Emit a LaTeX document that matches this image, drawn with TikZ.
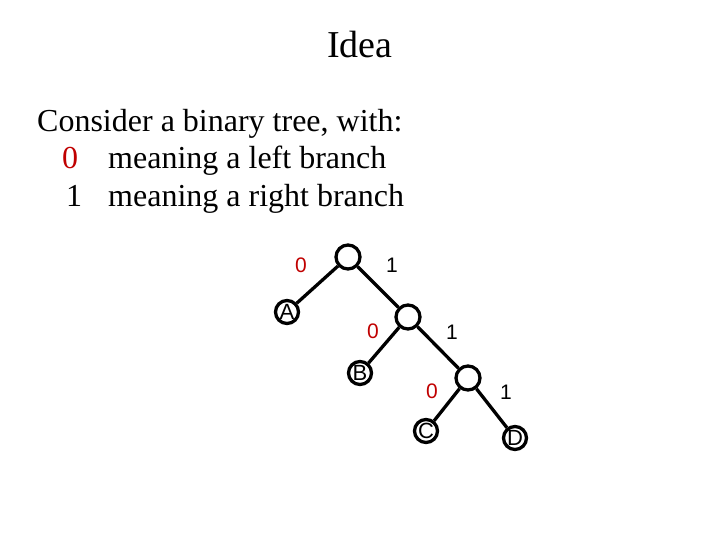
\documentclass[tikz,border=0pt]{standalone}
\usepackage{fontspec}
\setmainfont{Liberation Serif}
\newfontfamily\arialfont{Liberation Sans}
\definecolor{darkred}{RGB}{192,0,0}
\begin{document}
\begin{tikzpicture}[x=1pt,y=-1pt,
  inner/.style={circle,draw,line width=3.3pt,minimum size=24pt,inner sep=0pt},
  leaf/.style={circle,draw,line width=3.3pt,minimum size=23pt,inner sep=0pt,font=\arialfont\fontsize{22}{22}\selectfont},
  edge/.style={line width=3.3pt},
  bitz/.style={inner sep=0pt,font=\arialfont\fontsize{21}{21}\selectfont,text=darkred},
  bito/.style={inner sep=0pt,font=\arialfont\fontsize{21}{21}\selectfont},
  body/.style={anchor=base west,inner sep=0pt,font=\fontsize{32}{38}\selectfont}]
\useasboundingbox (0,0) rectangle (720,540);
\node[anchor=base,inner sep=0pt,font=\fontsize{38}{44}\selectfont] (title) at (360,58) {Idea};
\node[body] (l1) at (37,132) {Consider a binary tree, with:};
\node[body,text=darkred] (z) at (62,169) {0};
\node[body] (l2) at (108,169) {meaning a left branch};
\node[body] (o) at (66,207) {1};
\node[body] (l3) at (108,207) {meaning a right branch};

\node[inner] (r) at (348,257) {};
\node[leaf] (A) at (287,312) {A};
\node[inner] (n2) at (408,317) {};
\node[leaf] (B) at (360,373) {B};
\node[inner] (n3) at (468,378) {};
\node[leaf] (C) at (426,431) {C};
\node[leaf] (D) at (515,438) {D};

\draw[edge] (r) -- (A);
\draw[edge] (r) -- (n2);
\draw[edge] (n2) -- (B);
\draw[edge] (n2) -- (n3);
\draw[edge] (n3) -- (C);
\draw[edge] (n3) -- (D);

\node[bitz] (z1) at (301,265) {0};
\node[bito] (o1) at (392,265) {1};
\node[bitz] (z2) at (373,331) {0};
\node[bito] (o2) at (452,332) {1};
\node[bitz] (z3) at (432,391) {0};
\node[bito] (o3) at (506,392) {1};
\end{tikzpicture}
\end{document}
